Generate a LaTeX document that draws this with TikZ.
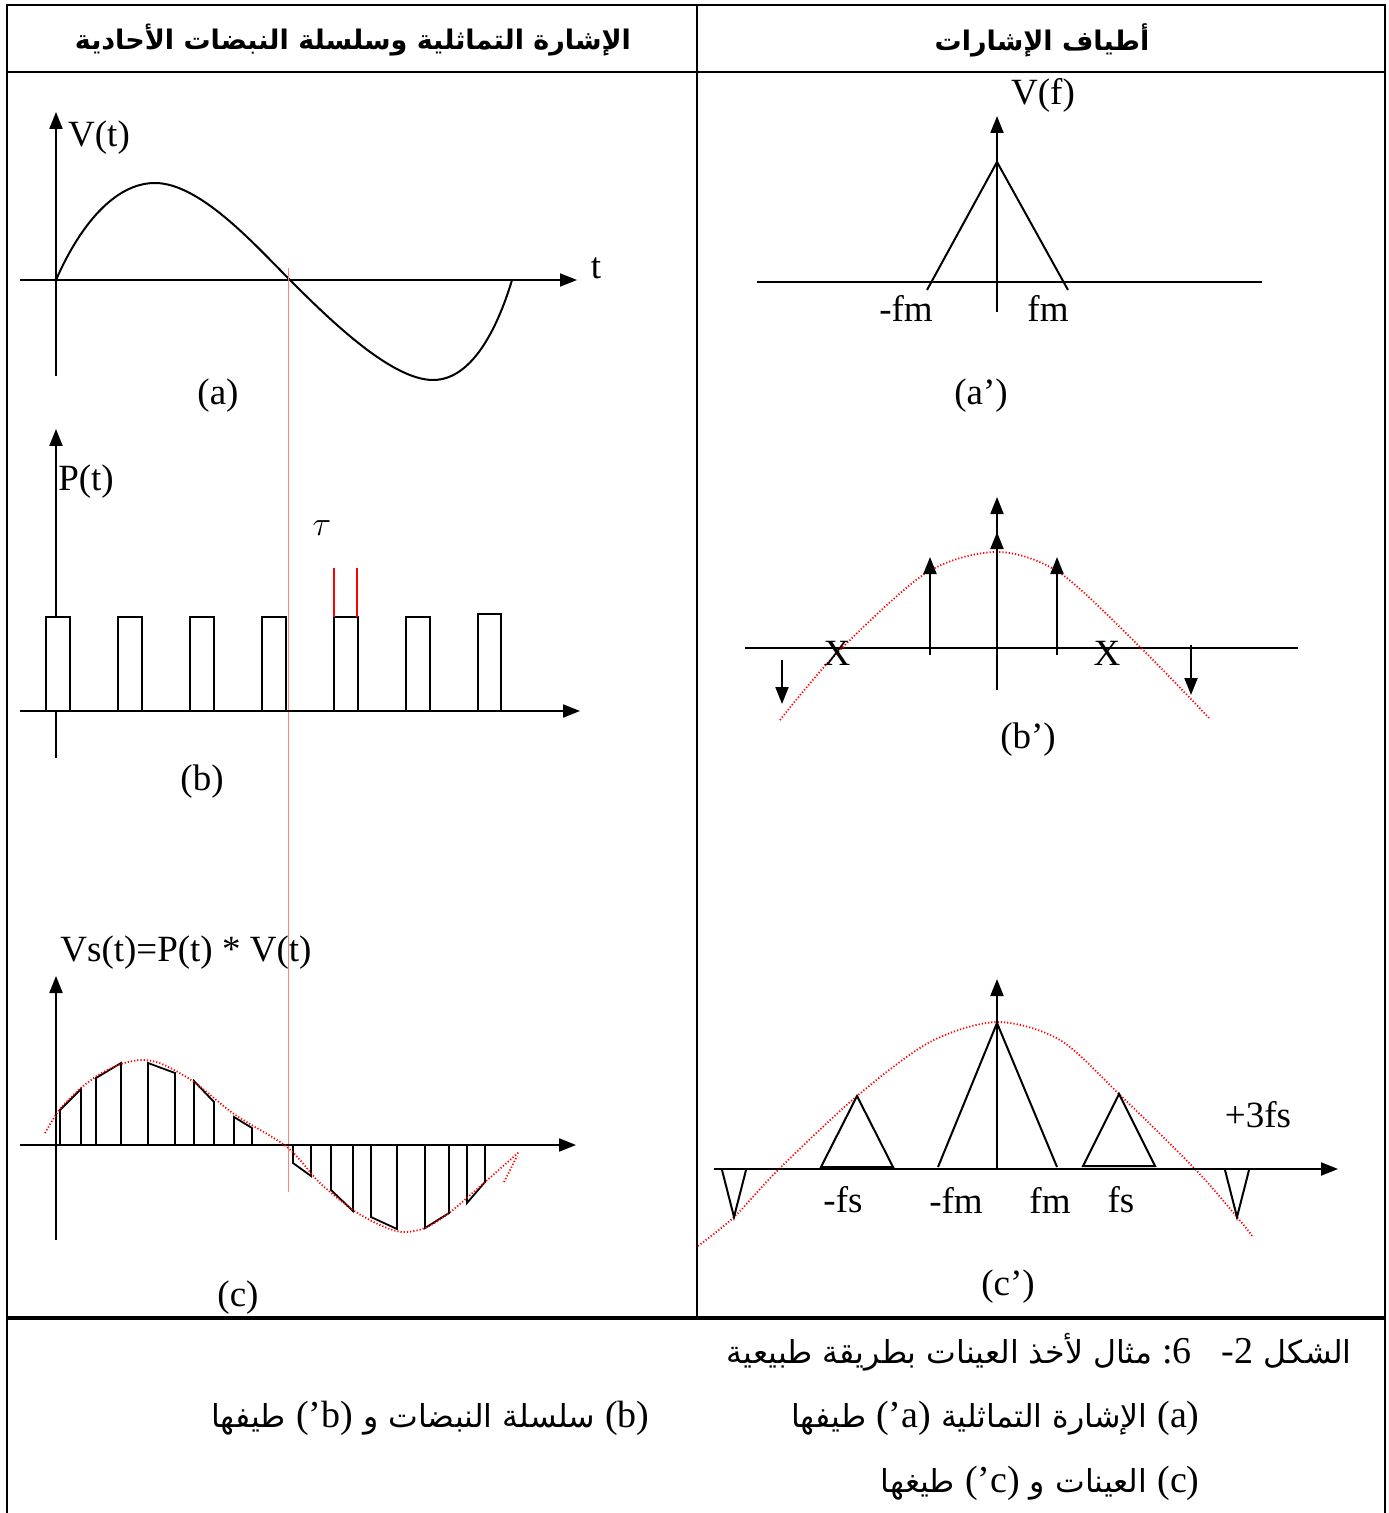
\documentclass[tikz,border=0pt]{standalone}
\usepackage{fontspec}
\setmainfont{Liberation Serif}
\newfontfamily\arabicfont[Script=Arabic]{DejaVu Sans}
\TeXXeTstate=1
\usetikzlibrary{arrows.meta}

\newcommand\latn[1]{\beginL{\rmfamily\fontsize{19}{22}\selectfont #1}\endL}

\tikzset{
  tabline/.style={line width=1.3pt},
  axis/.style={line width=1pt, -{Triangle[length=8.5pt,width=6.5pt]}},
  plain/.style={line width=1pt},
  lbl/.style={font=\fontsize{18.5}{21}\selectfont, inner sep=0pt},
  redline/.style={red!50, line width=0.35pt},
  reddot/.style={red, line width=0.9pt, dash pattern=on 0.6pt off 1pt},
  arhead/.style={font=\arabicfont\bfseries\fontsize{13.5}{17}\selectfont, inner sep=0pt},
  arcap/.style={font=\arabicfont\fontsize{15.8}{18}\selectfont, inner sep=0pt}
}

\begin{document}
\begin{tikzpicture}[x=0.5pt,y=-0.5pt]
    \useasboundingbox (0,0) rectangle (1388,1513);
    % table
    \draw[tabline] (7,1513) -- (7,5) -- (1385,5) -- (1385,1513);
    \draw[tabline] (7,72) -- (1385,72);
    \draw[tabline] (697,5) -- (697,1318);
    \draw[tabline, line width=1.7pt] (7,1318) -- (1385,1318);
    \node[arhead] (hl) at (353,40) {\beginR الإشارة التماثلية وسلسلة النبضات الأحادية\endR};
    \node[arhead] (hr) at (1042,40) {\beginR أطياف الإشارات\endR};

    % (a) analog signal
    \draw[axis] (56,376) -- (56,112);
    \draw[axis] (20,280) -- (577,280);
    \draw[plain] (56,280) .. controls (80,225) and (115,183) .. (155,183)
        .. controls (200,183) and (255,245) .. (290,280)
        .. controls (325,315) and (390,380) .. (433,380)
        .. controls (475,380) and (500,320) .. (512,280);
    \node[lbl] (Vt) at (99,138) {V(t)};
    \node[lbl] (t) at (596,268) {t};
    \node[lbl] (la) at (218,396) {(a)};
    \draw[redline] (288,268) -- (288,1192);

    % (b) pulse train
    \draw[axis] (56,758) -- (56,429);
    \draw[axis] (20,711) -- (580,711);
    \foreach \x in {46,118,190,262,334,406}
        \draw[line width=0.9pt, fill=white] (\x,711) rectangle ++(24,-94);
    \draw[line width=0.9pt, fill=white] (478,711) rectangle (501,614);
    \draw[red, line width=1pt] (334,617) -- (334,568) (357,617) -- (357,568);
    \node[lbl] (Pt) at (86,482) {P(t)};
    \node[lbl] (tau) at (322,528) {$\tau$};
    \node[lbl] (lb) at (202,782) {(b)};

    % (c) natural sampling
    \draw[axis] (56,1240) -- (56,976);
    \draw[axis] (20,1145) -- (576,1145);
    \foreach \a/\b/\c/\d in {60/1110/81/1089, 96/1078/121/1063, 148/1063/175/1073,
        194/1081/214/1102, 234/1117/252/1128, 293/1163/311/1176, 331/1190/353/1211,
        371/1217/397/1229, 425/1228/449/1213, 467/1203/485/1182}
        \draw[line width=0.9pt] (\a,1145) -- (\a,\b) -- (\c,\d) -- (\c,1145);
    \draw[reddot] plot[smooth] coordinates {(45,1133) (60,1109) (81,1088) (100,1074)
        (121,1064) (142,1060) (162,1064) (194,1082) (234,1114)
        (287,1147) (320,1183) (353,1210) (380,1225) (402,1232) (425,1228)
        (449,1213) (485,1182) (519,1152)};
    \draw[reddot] (504,1182) -- (517,1156);
    \node[lbl, anchor=west] (Vs) at (60,953) {Vs(t)=P(t) * V(t)};
    \node[lbl] (lc) at (238,1298) {(c)};

    % (a') spectrum of V
    \draw[axis] (997,312) -- (997,116);
    \draw[plain] (757,282) -- (1262,282);
    \draw[plain] (927,290) -- (997,162) -- (1068,290);
    \node[lbl] (Vf) at (1043,95) {V(f)};
    \node[lbl] (mfm) at (906,308) {-fm};
    \node[lbl] (fm) at (1048,308) {fm};
    \node[lbl] (lap) at (981,396) {(a’)};

    % (b') spectrum of P
    \draw[plain] (745,648) -- (1298,648);
    \draw[reddot] plot[smooth] coordinates {(780,720) (837,653) (926,573) (997,552)
        (1060,573) (1140,647) (1210,719)};
    \draw[axis] (997,690) -- (997,497);
    \draw[axis] (997,648) -- (997,532);
    \draw[axis] (930,655) -- (930,557);
    \draw[axis] (1057,655) -- (1057,557);
    \draw[axis] (782,660) -- (782,704);
    \draw[axis] (1191,645) -- (1191,695);
    \node[lbl] (X1) at (837,653) {X};
    \node[lbl] (X2) at (1107,653) {X};
    \node[lbl] (lbp) at (1028,740) {(b’)};

    % (c') spectrum of Vs
    \draw[reddot] plot[smooth] coordinates {(698,1246) (734,1217) (779,1169) (857,1096)
        (930,1042) (997,1022) (1060,1040) (1119,1094) (1195,1169) (1237,1217) (1253,1237)};
    \draw[axis] (714,1169) -- (1338,1169);
    \draw[axis] (997,1169) -- (997,979);
    \draw[plain] (938,1167) -- (997,1023) -- (1057,1167);
    \draw[plain] (821,1167) -- (857,1096) -- (893,1167) -- cycle;
    \draw[plain] (1083,1166) -- (1119,1094) -- (1155,1166) -- cycle;
    \draw[plain] (722,1170) -- (734,1217) -- (746,1170);
    \draw[plain] (1225,1170) -- (1237,1217) -- (1249,1170);
    \node[lbl] (mfs) at (843,1200) {-fs};
    \node[lbl] (mfm2) at (956,1200) {-fm};
    \node[lbl] (fm2) at (1050,1200) {fm};
    \node[lbl] (fs) at (1121,1200) {fs};
    \node[lbl] (tfs) at (1258,1115) {+3fs};
    \node[lbl] (lcp) at (1008,1287) {(c’)};

    % caption
    \node[arcap, anchor=east] (cap) at (1352,1352)
        {\beginR الشكل \latn{-2}\ \ \ \latn{:6}\ مثال لأخذ العينات بطريقة طبيعية\endR};
    \node[arcap, anchor=east] (capa) at (1200,1418)
        {\beginR\latn{(a)}\ الإشارة التماثلية \latn{(’a)}\ طيفها\endR};
    \node[arcap, anchor=east] (capb) at (650,1418)
        {\beginR\latn{(b)}\ سلسلة النبضات و \latn{(’b)}\ طيفها\endR};
    \node[arcap, anchor=east] (capc) at (1200,1483)
        {\beginR\latn{(c)}\ العينات و \latn{(’c)}\ طيغها\endR};
\end{tikzpicture}
\end{document}
